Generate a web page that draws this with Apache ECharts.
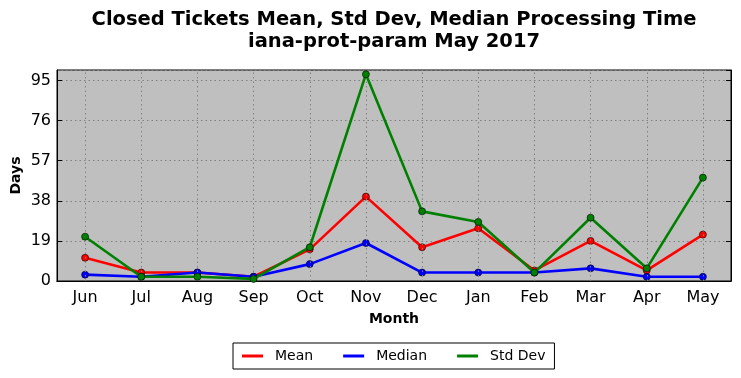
<!DOCTYPE html>
<html>
<head>
<meta charset="utf-8">
<script src="https://cdn.jsdelivr.net/npm/echarts@6/dist/echarts.min.js"></script>
<style>html,body{margin:0;padding:0;background:#fff;}#c{width:741px;height:378px;}</style>
</head>
<body>
<div id="c"></div>
<script>
var months = ['Jun','Jul','Aug','Sep','Oct','Nov','Dec','Jan','Feb','Mar','Apr','May'];
var meanVals = [11, 4, 4, 2, 15, 40, 16, 25, 5, 19, 5, 22];
var medianVals = [3, 2, 4, 2, 8, 18, 4, 4, 4, 6, 2, 2];
var stdVals = [21, 2, 2, 1, 16, 98, 33, 28, 4, 30, 6, 49];
var yTicks = [0, 19, 38, 57, 76, 95];

var F = 'DejaVu Sans';
var chart = echarts.init(document.getElementById('c'));
function mk(name, data, color, z) {
  return {
    name: name, type: 'line', data: data, z: z,
    lineStyle: {color: color, width: 2.6},
    itemStyle: {color: color, borderColor: '#000', borderWidth: 0.6},
    symbol: 'circle', symbolSize: 7, showSymbol: true,
    animation: false
  };
}
chart.setOption({
  backgroundColor: '#fff',
  animation: false,
  title: {
    text: 'Closed Tickets Mean, Std Dev, Median Processing Time\niana-prot-param May 2017',
    left: 389, top: 4, textAlign: 'center',
    textStyle: {fontFamily: F, fontSize: 19.5, fontWeight: 'bold', color: '#000', lineHeight: 22}
  },
  legend: {
    left: 233, top: 343,
    icon: 'rect', itemWidth: 21, itemHeight: 3, itemGap: 30,
    itemStyle: {borderWidth: 0},
    borderColor: '#000', borderWidth: 1, borderRadius: 0,
    padding: [6, 9, 6, 9],
    textStyle: {fontFamily: F, fontSize: 14, color: '#000', padding: [0, 0, 0, 7]},
    data: ['Mean', 'Median', 'Std Dev']
  },
  grid: {left: 57, right: 10, top: 70, bottom: 97, containLabel: false, outerBoundsMode: 'none',
    show: true, backgroundColor: '#bfbfbf', borderColor: '#000', borderWidth: 1},
  xAxis: [{
    type: 'category', data: months, boundaryGap: true,
    name: 'Month', nameLocation: 'middle', nameGap: 31,
    nameTextStyle: {fontFamily: F, fontSize: 14, fontWeight: 'bold', color: '#000'},
    axisLine: {lineStyle: {color: '#000', width: 1}},
    axisTick: {inside: true, alignWithLabel: true, length: 5, lineStyle: {color: '#000'}},
    axisLabel: {fontFamily: F, fontSize: 16, color: '#000', margin: 9, interval: 0},
    splitLine: {show: false}
  }, {
    type: 'category', data: months, boundaryGap: true, position: 'top',
    axisLine: {lineStyle: {color: '#000', width: 1}},
    axisTick: {inside: true, alignWithLabel: true, length: 5, lineStyle: {color: '#000'}},
    axisLabel: {show: false}, splitLine: {show: false}
  }],
  yAxis: [{
    type: 'value', min: 0, max: 100, interval: 19,
    name: 'Days', nameLocation: 'middle', nameGap: 34, nameRotate: 90, nameMoveOverlap: false,
    nameTextStyle: {fontFamily: F, fontSize: 14, fontWeight: 'bold', color: '#000'},
    axisLine: {show: true, lineStyle: {color: '#000', width: 1}},
    axisTick: {show: true, inside: true, length: 5, lineStyle: {color: '#000'}},
    axisLabel: {fontFamily: F, fontSize: 16, color: '#000', margin: 6, showMaxLabel: false,
      formatter: function (v) { return yTicks.indexOf(v) >= 0 ? String(v) : ''; }},
    splitLine: {show: true, lineStyle: {color: '#808080', type: [1.5, 3], width: 1}}
  }, {
    type: 'value', min: 0, max: 100, interval: 19, position: 'right',
    axisLine: {show: true, lineStyle: {color: '#000', width: 1}},
    axisTick: {show: true, inside: true, length: 5, lineStyle: {color: '#000'}},
    axisLabel: {show: false}, splitLine: {show: false}
  }],
  series: [
    {
      type: 'line', data: [], z: 1, silent: true,
      markLine: {
        silent: true, symbol: 'none', animation: false,
        label: {show: false},
        lineStyle: {color: '#808080', type: [1.5, 3], width: 1},
        data: months.map(function (m) { return {xAxis: m}; })
      }
    },
    mk('Mean', meanVals, '#ff0000', 3),
    mk('Median', medianVals, '#0000ff', 4),
    mk('Std Dev', stdVals, '#008000', 5)
  ]
});
</script>
</body>
</html>
